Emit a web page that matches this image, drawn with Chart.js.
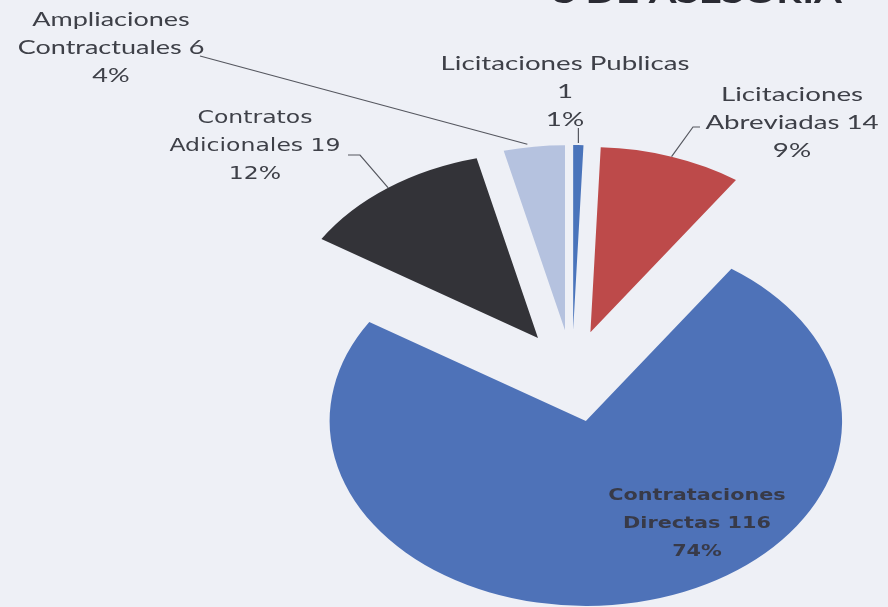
<!DOCTYPE html>
<html>
<head>
<meta charset="utf-8">
<script src="https://cdn.jsdelivr.net/npm/chart.js@4/dist/chart.umd.min.js"></script>
<style>
  html, body { margin: 0; padding: 0; background: #eef0f6; }
  #pie-graph { display: block; }
</style>
</head>
<body>
<canvas id="pie-graph" width="888" height="607"></canvas>
<script>
// 区分
const categories = ['Licitaciones Publicas', 'Licitaciones Abreviadas', 'Contrataciones Directas', 'Contratos Adicionales', 'Ampliaciones Contractuales'];
// 件数
const counts = [1, 14, 116, 19, 6];
// 色
const sliceColors = ['#4a74bb', '#bd4a4a', '#4e72b8', '#333338', '#b5c2df'];

// 切り出し距離(px)
const explode = [42, 42, 50, 42, 42];
// 横方向の伸縮
const stretchX = 1.385;

// ラベル配置
const labelLayout = [
  { x: 565, y: 64, font: '20px Lato', byName: true },
  { x: 792, y: 95, font: '20px Lato' },
  { x: 697, y: 496, font: 'bold 15px "DejaVu Sans"' },
  { x: 255, y: 119, font: '17px "DejaVu Sans"' },
  { x: 111, y: 20, font: '19.5px Lato' }
];

const total = counts.reduce((a, b) => a + b, 0);

/*
  ラベル文字列
*/
function labelLines(i) {
  const pct = Math.round(counts[i] / total * 100) + '%';
  if (labelLayout[i].byName) {
    return [categories[i], String(counts[i]), pct];
  }
  const words = categories[i].split(' ');
  return [words[0], words.slice(1).join(' ') + ' ' + counts[i], pct];
}

/*
  円弧上の点(伸縮後)
*/
function arcPoint(arc, i, frac, extra) {
  const a = arc.startAngle + (arc.endAngle - arc.startAngle) * frac;
  const mid = (arc.startAngle + arc.endAngle) / 2;
  const lx = arc.x + Math.cos(a) * (arc.outerRadius + extra) + Math.cos(mid) * explode[i];
  const ly = arc.y + Math.sin(a) * (arc.outerRadius + extra) + Math.sin(mid) * explode[i];
  return { x: arc.x + (lx - arc.x) * stretchX, y: ly };
}

// 扇形を切り出して横に伸ばして描く
const explodePlugin = {
  id: 'explodeStretch',
  beforeDatasetsDraw(chart) {
    const ctx = chart.ctx;
    const arcs = chart.getDatasetMeta(0).data;
    const cx = arcs[0].x;
    ctx.save();
    ctx.translate(cx, 0);
    ctx.scale(stretchX, 1);
    ctx.translate(-cx, 0);
    arcs.forEach((arc, i) => {
      const mid = (arc.startAngle + arc.endAngle) / 2;
      ctx.save();
      ctx.translate(Math.cos(mid) * explode[i], Math.sin(mid) * explode[i]);
      arc.draw(ctx);
      ctx.restore();
    });
    ctx.restore();
    return false;
  },
  afterDraw(chart) {
    const ctx = chart.ctx;
    const arcs = chart.getDatasetMeta(0).data;

    // タイトル(上端で切れている)
    ctx.save();
    ctx.translate(842, 0);
    ctx.scale(stretchX, 1);
    ctx.font = 'bold 29px Lato';
    ctx.fillStyle = '#2a2b33';
    ctx.textAlign = 'right';
    ctx.textBaseline = 'alphabetic';
    ctx.fillText('S DE ASESORIA', 0, 3);
    ctx.restore();

    // 引出線
    ctx.save();
    ctx.strokeStyle = '#55575f';
    ctx.lineWidth = 1.2;
    let p;
    p = arcPoint(arcs[4], 4, 0.4, 3);
    ctx.beginPath(); ctx.moveTo(200, 56); ctx.lineTo(p.x, p.y); ctx.stroke();
    p = arcPoint(arcs[0], 0, 0.5, 2);
    ctx.beginPath(); ctx.moveTo(p.x, 128); ctx.lineTo(p.x, p.y); ctx.stroke();
    p = arcPoint(arcs[1], 1, 0.5, 0);
    ctx.beginPath(); ctx.moveTo(700, 127); ctx.lineTo(693, 127); ctx.lineTo(p.x, p.y); ctx.stroke();
    p = arcPoint(arcs[3], 3, 0.5, 0);
    ctx.beginPath(); ctx.moveTo(348, 155); ctx.lineTo(360, 155); ctx.lineTo(p.x, p.y); ctx.stroke();
    ctx.restore();

    // ラベル
    labelLayout.forEach((lay, i) => {
      const lines = labelLines(i);
      ctx.save();
      ctx.translate(lay.x, 0);
      ctx.scale(stretchX, 1);
      ctx.font = lay.font;
      ctx.fillStyle = i == 2 ? '#383a48' : '#3e4048';
      ctx.textAlign = 'center';
      ctx.textBaseline = 'middle';
      lines.forEach((t, k) => {
        ctx.fillText(t, 0, lay.y + k * 28);
      });
      ctx.restore();
    });
  }
};

new Chart(document.getElementById('pie-graph'), {
  type: 'pie',
  data: {
    labels: categories,
    datasets: [{
      data: counts,
      backgroundColor: sliceColors,
      borderWidth: 0,
      clip: false
    }]
  },
  options: {
    responsive: false,
    animation: false,
    radius: 185,
    layout: { padding: { left: 256, right: 0, top: 137, bottom: 0 } },
    plugins: {
      legend: { display: false },
      tooltip: { enabled: false }
    }
  },
  plugins: [explodePlugin]
});
</script>
</body>
</html>
